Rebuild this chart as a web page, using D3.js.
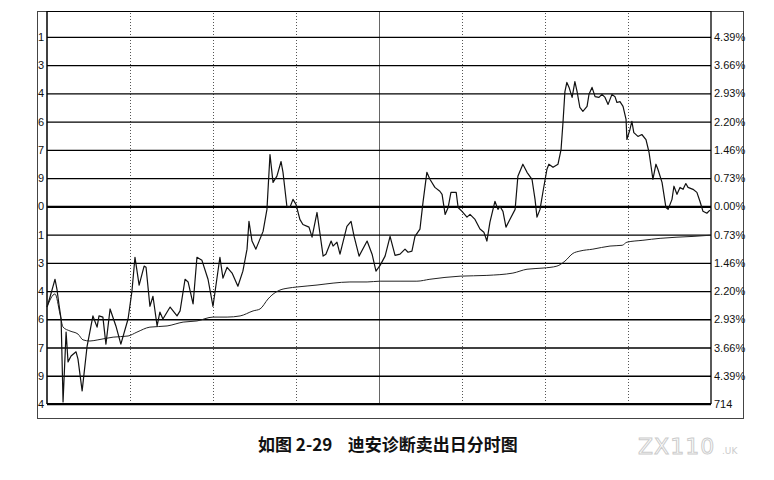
<!DOCTYPE html>
<html>
<head>
<meta charset="utf-8">
<script src="https://cdn.jsdelivr.net/npm/d3@7"></script>
<style>
  body { margin: 0; background: #fff; }
  svg { display: block; }
</style>
</head>
<body>
<script>
// 分时图: minutes since open, percent change vs previous close
var priceMin = [0,1.1,2.2,2.9,3.6,4.3,5.1,5.8,6.9,7.6,8.7,10.5,11.2,12.7,14.5,16.6,18.1,18.8,20.2,21.3,
  22.8,24.9,26.7,29.3,30.7,31.8,33.3,35.1,35.8,37.2,38.3,39.8,40.8,41.9,44.5,47.0,48.1,49.9,51.0,52.8,
  54.2,56.0,58.2,60.0,62.5,63.6,65.1,66.9,69.0,70.8,72.3,73.0,74.1,75.5,78.1,79.5,80.6,81.7,83.1,84.6,
  85.3,86.7,87.8,88.9,90.0,91.4,92.5,94.7,95.8,97.6,98.3,99.8,100.8,102.7,103.4,104.8,105.9,108.4,109.9,111.0,
  112.8,115.7,117.5,118.9,120.4,122.2,124.0,125.8,127.6,129.4,130.5,131.9,133.0,134.8,135.9,137.3,138.4,140.2,142.0,142.8,
  143.9,145.0,146.0,147.9,148.6,150.0,151.8,152.9,154.7,156.5,157.9,159.0,160.1,161.9,163.0,163.7,164.8,165.9,167.3,169.2,
  170.2,172.0,173.5,175.3,176.4,177.1,178.2,179.3,180.7,181.4,182.9,184.7,185.8,186.5,187.2,187.9,188.7,189.8,190.8,191.6,
  192.6,193.7,195.2,195.9,197.0,198.1,199.5,200.6,201.7,202.8,204.2,205.3,206.0,207.1,208.2,209.3,209.6,210.7,211.4,212.1,
  213.6,215.0,216.5,217.6,219.0,220.1,220.8,222.3,223.7,224.5,225.9,226.6,227.7,228.8,229.9,230.9,231.7,233.5,234.9,236.0,
  237.1,238.5,239.6];
var pricePct = [-2.61,-2.35,-2.07,-1.89,-2.15,-2.53,-2.92,-5.07,-3.26,-4.03,-3.88,-3.77,-3.96,-4.78,-3.62,-2.84,-3.13,-2.84,-2.87,-3.57,
  -2.66,-3.10,-3.57,-2.92,-2.20,-1.32,-2.04,-1.55,-1.58,-2.59,-2.33,-3.10,-2.74,-2.92,-2.61,-2.84,-2.71,-1.89,-1.96,-2.53,
  -1.32,-1.40,-1.89,-2.59,-1.32,-1.86,-1.58,-1.73,-2.07,-1.68,-1.11,-0.39,-0.90,-1.11,-0.65,-0.08,1.34,0.62,0.78,1.16,
  0.88,0.00,-0.03,0.18,0.05,-0.34,-0.47,-0.54,-0.80,-0.16,-0.52,-1.29,-1.24,-0.90,-1.03,-0.93,-1.24,-0.52,-0.39,-0.78,
  -1.29,-0.90,-1.24,-1.68,-1.53,-1.29,-0.78,-1.27,-1.24,-1.11,-1.19,-1.16,-0.78,-0.59,0.10,0.88,0.70,0.49,0.39,0.31,
  -0.21,-0.03,0.36,0.36,-0.03,-0.13,-0.28,-0.21,-0.34,-0.59,-0.67,-0.90,-0.41,0.13,-0.08,0.00,-0.13,-0.54,-0.34,-0.08,
  0.78,1.09,0.88,0.70,0.18,-0.28,-0.08,0.39,0.96,1.09,1.01,1.09,1.47,2.17,2.97,3.21,3.08,2.82,3.23,2.97,
  2.56,2.46,2.59,2.90,3.08,2.84,2.82,2.90,2.82,2.64,2.90,2.84,2.69,2.71,2.59,2.25,1.73,1.99,2.20,1.91,
  1.81,1.86,1.73,1.40,0.70,1.09,0.96,0.62,-0.03,-0.08,0.18,0.52,0.31,0.49,0.44,0.59,0.49,0.44,0.36,0.13,
  -0.13,-0.18,-0.10];

// 均价线
var avgMin = [0,2.9,4.7,5.8,8.3,11.2,13.0,15.5,18.4,23.9,29.3,32.5,37.2,43.4,49.2,54.2,60.0,65.1,69.8,74.5,
  77.0,79.9,81.3,84.2,87.1,90.4,97.6,103.4,109.5,115.7,120.4,127.6,133.7,138.4,149.3,159.0,168.4,173.5,179.3,184.3,
  187.2,190.1,192.6,197.3,203.5,207.9,209.6,215.4,221.6,227.7,233.5,239.6];
var avgPct = [-2.61,-2.27,-2.79,-3.13,-3.23,-3.31,-3.46,-3.49,-3.46,-3.39,-3.36,-3.26,-3.13,-3.10,-3.00,-2.97,-2.87,-2.87,-2.84,-2.71,
  -2.66,-2.40,-2.30,-2.17,-2.12,-2.09,-2.04,-1.99,-1.96,-1.96,-1.94,-1.94,-1.94,-1.89,-1.81,-1.79,-1.73,-1.63,-1.60,-1.55,
  -1.42,-1.22,-1.16,-1.11,-1.03,-1.01,-0.93,-0.88,-0.83,-0.80,-0.78,-0.75];

var levelSteps = [6,5,4,3,2,1,0,-1,-2,-3,-4,-5,-6,-7];
var leftLabels = ["1","3","4","6","7","9","0","1","3","4","6","7","9","4"];
var rightLabels = ["4.39%","3.66%","2.93%","2.20%","1.46%","0.73%","0.00%","0.73%","1.46%","2.20%","2.93%","3.66%","4.39%","714"];
var timeTicks = [30,60,90,120,150,180,210];
var caption = "如图 2-29\u00a0\u00a0\u00a0\u00a0迪安诊断卖出日分时图";

var W = 774, H = 480;
var L = 47, R = 711, T = 11, B = 404;
var step = 4.39 / 6;
var levels = levelSteps.map(function(s){ return s * step; });

var svg = d3.select("body").append("svg").attr("width", W).attr("height", H);
svg.append("rect").attr("width", W).attr("height", H).attr("fill", "#fff");

var x = d3.scaleLinear().domain([0, 240]).range([L, R]);
var y = d3.scaleLinear().domain([-7 * step, 7 * step]).range([B, 8.6]);

// outer frame
svg.append("rect").attr("x", 37.5).attr("y", T + 0.5).attr("width", 743 - 37).attr("height", 418 - T)
  .attr("fill", "none").attr("stroke", "#444").attr("stroke-width", 1);

// vertical time grid
var vg = svg.append("g").attr("transform", "translate(0," + B + ")")
  .call(d3.axisBottom(x).tickValues(timeTicks).tickSize(-(B - T)).tickFormat(""));
vg.select(".domain").remove();
vg.selectAll(".tick line")
  .attr("stroke", function(d){ return d === 120 ? "#666" : "#555"; })
  .attr("stroke-width", 1)
  .attr("stroke-dasharray", function(d){ return d === 120 ? null : "1,2"; });

// horizontal grid
var hg = svg.append("g").attr("transform", "translate(" + L + ",0)")
  .call(d3.axisLeft(y).tickValues(levels).tickSize(-(R - L)).tickFormat(""));
hg.select(".domain").remove();
hg.selectAll(".tick line")
  .attr("stroke", "#000")
  .attr("stroke-width", function(d){ return Math.abs(d) < 1e-9 ? 2.2 : 1.3; });

// plot border
svg.append("line").attr("x1", L).attr("x2", L).attr("y1", T).attr("y2", B).attr("stroke", "#000").attr("stroke-width", 1.5);
svg.append("line").attr("x1", R).attr("x2", R).attr("y1", T).attr("y2", B).attr("stroke", "#000").attr("stroke-width", 1.3);
svg.append("line").attr("x1", L).attr("x2", R).attr("y1", T + 0.5).attr("y2", T + 0.5).attr("stroke", "#000").attr("stroke-width", 1);
svg.append("line").attr("x1", L).attr("x2", R).attr("y1", B).attr("y2", B).attr("stroke", "#000").attr("stroke-width", 2);

// left labels (cut off price digits)
var la = svg.append("g").attr("transform", "translate(" + L + ",0)")
  .call(d3.axisLeft(y).tickValues(levels).tickSize(0).tickPadding(3)
    .tickFormat(function(d, i){ return leftLabels[i]; }));
la.select(".domain").remove();
la.selectAll("text").attr("font-family", "Liberation Sans, Arial, sans-serif").attr("font-size", 11).attr("fill", "#111");

// right labels
var ra = svg.append("g").attr("transform", "translate(" + R + ",0)")
  .call(d3.axisRight(y).tickValues(levels).tickSize(0).tickPadding(3)
    .tickFormat(function(d, i){ return rightLabels[i]; }));
ra.select(".domain").remove();
ra.selectAll("text").attr("font-family", "Liberation Sans, Arial, sans-serif").attr("font-size", 11).attr("fill", "#111");

// lines
var line = d3.line().x(function(d){ return x(d[0]); }).y(function(d){ return y(d[1]); });
svg.append("path").datum(d3.zip(avgMin, avgPct)).attr("d", line.curve(d3.curveMonotoneX))
  .attr("fill", "none").attr("stroke", "#222").attr("stroke-width", 1);
svg.append("path").datum(d3.zip(priceMin, pricePct)).attr("d", d3.line().x(function(d){ return x(d[0]); }).y(function(d){ return y(d[1]); }))
  .attr("fill", "none").attr("stroke", "#111").attr("stroke-width", 1.2).attr("stroke-linejoin", "round");

// caption
svg.append("text").attr("x", 258).attr("y", 451)
  .attr("font-family", "Noto Sans CJK SC, sans-serif").attr("font-weight", "bold").attr("font-size", 17)
  .attr("fill", "#111").text(caption);

// watermark
svg.append("text").attr("x", 638).attr("y", 454)
  .attr("font-family", "DejaVu Sans, sans-serif").attr("font-size", 22).attr("letter-spacing", 1)
  .attr("fill", "#fff").attr("stroke", "#ccc").attr("stroke-width", 1).text("ZX110");
svg.append("text").attr("x", 722).attr("y", 454)
  .attr("font-family", "DejaVu Sans, sans-serif").attr("font-size", 9)
  .attr("fill", "#ccc").text(".UK");
</script>
</body>
</html>
